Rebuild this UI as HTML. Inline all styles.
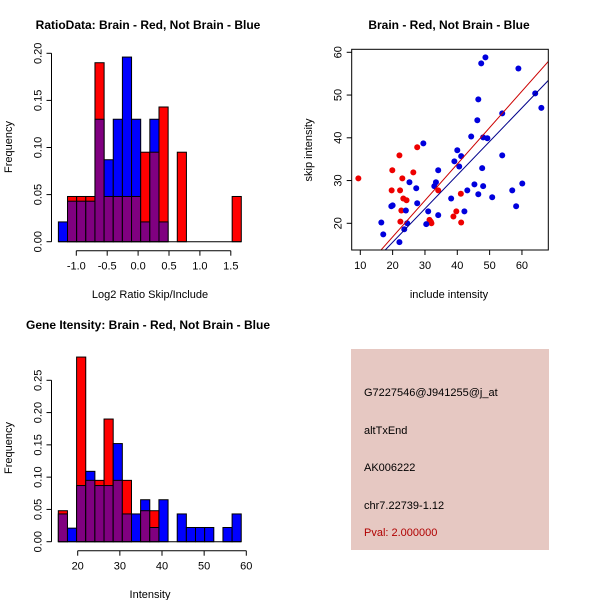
<!DOCTYPE html>
<html><head><meta charset="utf-8"><style>
html,body{margin:0;padding:0;background:#fff}
svg{display:block;font-family:"Liberation Sans",Arial,sans-serif}
</style></head><body>
<svg id="s" width="600" height="600" viewBox="0 0 600 600" xmlns="http://www.w3.org/2000/svg">
<rect width="600" height="600" fill="#fff"/>
<text x="148" y="29" font-size="12" font-weight="bold" text-anchor="middle">RatioData: Brain - Red, Not Brain - Blue</text>
<text x="449" y="29" font-size="12" font-weight="bold" text-anchor="middle">Brain - Red, Not Brain - Blue</text>
<text x="148" y="329" font-size="12" font-weight="bold" text-anchor="middle">Gene Itensity: Brain - Red, Not Brain - Blue</text>
<text x="150" y="298" font-size="11" text-anchor="middle">Log2 Ratio Skip/Include</text>
<text transform="translate(12,147) rotate(-90)" font-size="11" text-anchor="middle">Frequency</text>
<text x="449" y="298" font-size="11" text-anchor="middle">include intensity</text>
<text transform="translate(312,150) rotate(-90)" font-size="11" text-anchor="middle">skip intensity</text>
<text x="150" y="598" font-size="11" text-anchor="middle">Intensity</text>
<text transform="translate(12,448) rotate(-90)" font-size="11" text-anchor="middle">Frequency</text>
<g>
<rect x="351" y="349" width="198" height="201" fill="#e6c8c2"/>
<text x="364" y="396" font-size="11">G7227546@J941255@j_at</text>
<text x="364" y="434" font-size="11">altTxEnd</text>
<text x="364" y="471" font-size="11">AK006222</text>
<text x="364" y="509" font-size="11">chr7.22739-1.12</text>
<text x="364" y="536" font-size="11" fill="#b00000">Pval: 2.000000</text>
</g>
</svg>
<script>
// Histogram 1 data
const ratioBinStart = -1.29;
const ratioBinWidth = 0.148;
const ratioBlue = [0.021,0.043,0.043,0.043,0.13,0.087,0.13,0.196,0.13,0.021,0.13,0.021,0,0,0,0,0,0,0,0];
const ratioRed  = [0,0.048,0.048,0.048,0.19,0.048,0.048,0.048,0.048,0.095,0.095,0.143,0,0.095,0,0,0,0,0,0.048];
const ratioXTicks = [-1.0,-0.5,0.0,0.5,1.0,1.5];
const ratioXTickLabels = ["-1.0","-0.5","0.0","0.5","1.0","1.5"];
const ratioYTicks = [0,0.05,0.10,0.15,0.20];
const ratioYTickLabels = ["0.00","0.05","0.10","0.15","0.20"];
// Histogram 2 data
const intBinStart = 15.4;
const intBinWidth = 2.17;
const intBlue = [0.043,0.021,0.087,0.109,0.087,0.087,0.152,0.043,0.043,0.065,0.022,0.065,0,0.043,0.022,0.022,0.022,0,0.022,0.043];
const intRed  = [0.048,0,0.286,0.095,0.095,0.19,0.095,0.095,0,0.048,0.048,0,0,0,0,0,0,0,0,0];
const intXTicks = [20,30,40,50,60];
const intXTickLabels = ["20","30","40","50","60"];
const intYTicks = [0,0.05,0.10,0.15,0.20,0.25];
const intYTickLabels = ["0.00","0.05","0.10","0.15","0.20","0.25"];
// Scatter data
const redX = [9.4,19.9,19.7,22.1,22.3,23,23.3,24.3,22.7,22.4,26.4,27.6,34.1,41.1,39.7,38.8,41.2,31.4,31.8,32];
const redY = [30.5,32.4,27.7,35.9,27.7,30.5,25.8,25.4,23,20.4,31.9,37.8,27.7,26.9,22.8,21.6,20.2,20.8,20.4,20];
const blueX = [16.5,17.1,19.6,20,22.1,23.6,24.1,24.5,25.2,27.3,27.6,29.5,30.4,31,32.9,33.4,34.1,34.1,38.1,39.1,40,40.6,41.2,42.2,43.1,44.3,45.3,46.2,46.5,46.5,47.4,47.7,48,48,48.7,49.3,50.8,53.9,53.9,57,58.2,58.9,60.1,64.1,66];
const blueY = [20.2,17.4,24,24.2,15.6,18.6,23,20,29.6,28.2,24.7,38.7,19.8,22.8,28.7,29.6,32.4,21.9,25.8,34.5,37.1,33.3,35.7,22.8,27.7,40.3,29.1,44.1,49,26.8,57.4,32.9,28.7,40.1,58.8,39.9,26.1,45.7,35.9,27.7,24,56.2,29.3,50.4,47];
const redFit = [0.852, -0.22];   // slope, intercept
const blueFit = [0.786, -0.16];
const scXTicks = [10,20,30,40,50,60];
const scYTicks = [20,30,40,50,60];

const NS = "http://www.w3.org/2000/svg";
const svg = document.getElementById('s');
function mk(tag, attrs, parent){ const e=document.createElementNS(NS,tag); for(const k in attrs) e.setAttribute(k,attrs[k]); (parent||svg).appendChild(e); return e; }

function histogram(name, y0px, yScalePx, x0px, xPerUnit, binStart, binW, blue, red, xt, xtl, yt, ytl, axisLeft, xAxisFrom, xAxisTo){
  const g = mk('g',{});
  
  
  const X = v => x0px + v*xPerUnit;
  const Y = v => y0px - v*yScalePx;
  for(let i=0;i<blue.length;i++){
    const b=blue[i], r=red[i];
    const xl = X(binStart+i*binW), xr = X(binStart+(i+1)*binW);
    if(b===0 && r===0) continue;
    const hi = Math.max(b,r), lo = Math.min(b,r);
    const col = b>=r ? '#0000ff' : '#ff0000';
    const bar = mk('rect',{x:xl,y:Y(hi),width:xr-xl,height:Y(0)-Y(hi),fill:col,stroke:'#000','stroke-width':1},g);
    
    
    if(lo>0){
      const p = mk('rect',{x:xl,y:Y(lo),width:xr-xl,height:Y(0)-Y(lo),fill:'#800080',stroke:'#000','stroke-width':1},g);
      
      
    }
  }
  // baseline
  const nb = blue.length;
  mk('line',{x1:X(binStart),x2:X(binStart+nb*binW),y1:Y(0),y2:Y(0),stroke:'#000'},g);
  // x axis
  const xa = mk('g',{},g);
  
  
  const ay = y0px+9;
  mk('line',{x1:X(xt[0]),x2:X(xt[xt.length-1]),y1:ay,y2:ay,stroke:'#000'},xa);
  xt.forEach((t,i)=>{
    mk('line',{x1:X(t),x2:X(t),y1:ay,y2:ay+5,stroke:'#000'},xa);
    const tx = mk('text',{x:X(t),y:ay+19,'font-size':11,'text-anchor':'middle'},xa);
    tx.textContent = xtl[i];
  });
  // y axis
  const ya = mk('g',{},g);
  
  
  mk('line',{x1:axisLeft,x2:axisLeft,y1:Y(yt[0]),y2:Y(yt[yt.length-1]),stroke:'#000'},ya);
  yt.forEach((t,i)=>{
    mk('line',{x1:axisLeft-5,x2:axisLeft,y1:Y(t),y2:Y(t),stroke:'#000'},ya);
    const tx = mk('text',{transform:`translate(${axisLeft-10},${Y(t)}) rotate(-90)`,'font-size':11,'text-anchor':'middle'},ya);
    tx.textContent = ytl[i];
  });
}
// ratio hist: y0=241.7, 0.2->53.3 ; x: -1 at 76.3, 61.8 px/unit -> x0 at 0 = 138.1
histogram('ratio-histogram', 241.7, (241.7-53.3)/0.2, 138.1, 61.8, ratioBinStart, ratioBinWidth, ratioBlue, ratioRed, ratioXTicks, ratioXTickLabels, ratioYTicks, ratioYTickLabels, 51.5);
// intensity hist: y0=541.7, 0.25->380.3; x: 20 at 77.7, 4.215px/unit -> x0 at 0 = -6.6
histogram('intensity-histogram', 541.7, (541.7-380.3)/0.25, 77.7-20*4.215, 4.215, intBinStart, intBinWidth, intBlue, intRed, intXTicks, intXTickLabels, intYTicks, intYTickLabels, 51.5);

// scatter
(function(){
  const g = mk('g',{});
  
  
  const L=351.7,R=548.3,T=49.3,B=250;
  const sx=3.233, sy=4.275;
  const X = v => 360.3 + (v-10)*sx;
  const Y = v => 223.3 - (v-20)*sy;
  const clip = mk('clipPath',{id:'sc'},g);
  mk('rect',{x:L,y:T,width:R-L,height:B-T},clip);
  const pts = mk('g',{'clip-path':'url(#sc)'},g);
  redX.forEach((x,i)=>{
    const c = mk('circle',{cx:X(x),cy:Y(redY[i]),r:3,fill:'#ee0000'},pts);
    
    
  });
  blueX.forEach((x,i)=>{
    const c = mk('circle',{cx:X(x),cy:Y(blueY[i]),r:3,fill:'#0000dd'},pts);
    
    
  });
  const lr = mk('line',{x1:X(0),y1:Y(redFit[1]),x2:X(80),y2:Y(redFit[0]*80+redFit[1]),stroke:'#cc0000','stroke-width':1},pts);
  
  
  const lb = mk('line',{x1:X(0),y1:Y(blueFit[1]),x2:X(80),y2:Y(blueFit[0]*80+blueFit[1]),stroke:'#00008b','stroke-width':1},pts);
  
  
  const box = mk('rect',{x:L,y:T,width:R-L,height:B-T,fill:'none',stroke:'#000'},g);
  
  
  const xa = mk('g',{},g);
  
  
  scXTicks.forEach(t=>{
    mk('line',{x1:X(t),x2:X(t),y1:B,y2:B+5,stroke:'#000'},xa);
    const tx = mk('text',{x:X(t),y:B+19,'font-size':11,'text-anchor':'middle'},xa);
    tx.textContent = String(t);
  });
  const ya = mk('g',{},g);
  
  
  scYTicks.forEach(t=>{
    mk('line',{x1:L-5,x2:L,y1:Y(t),y2:Y(t),stroke:'#000'},ya);
    const tx = mk('text',{transform:`translate(${L-10},${Y(t)}) rotate(-90)`,'font-size':11,'text-anchor':'middle'},ya);
    tx.textContent = String(t);
  });
})();
</script>
</body></html>
